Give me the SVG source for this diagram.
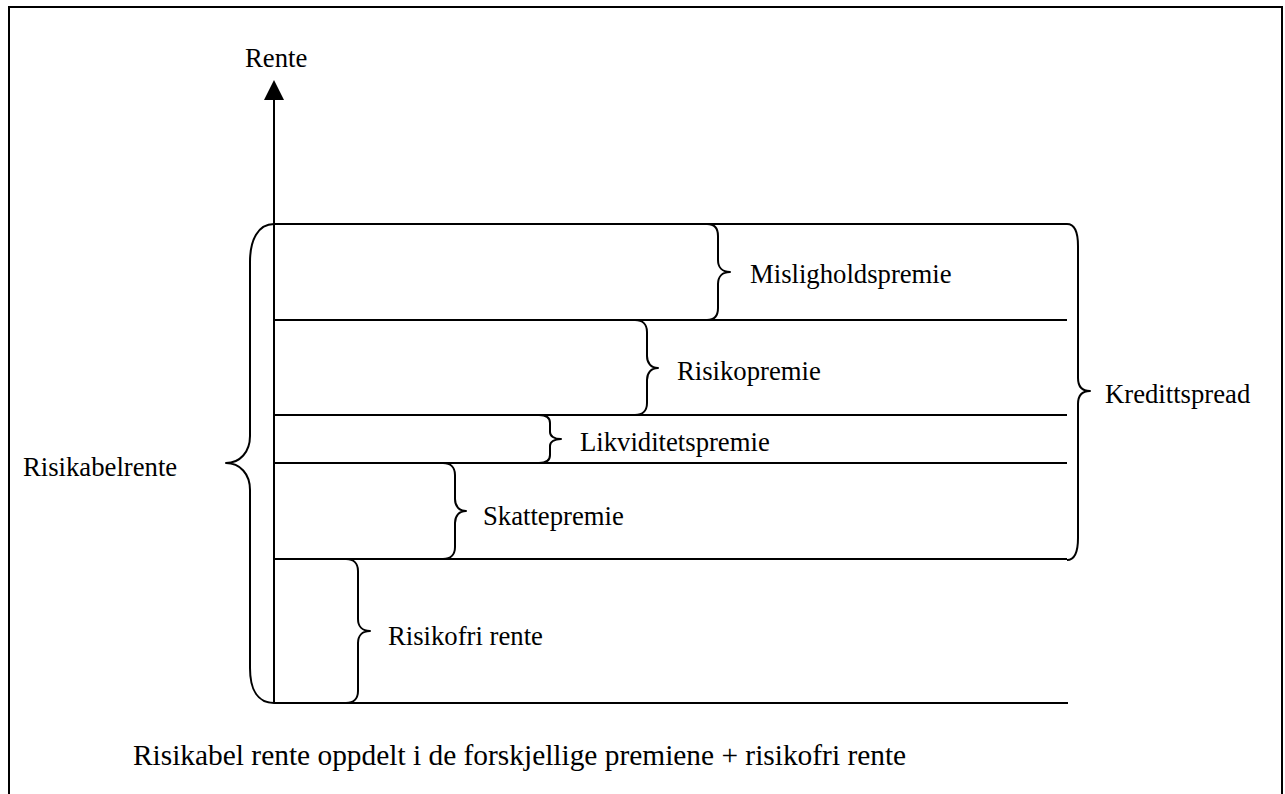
<svg xmlns="http://www.w3.org/2000/svg" width="1285" height="794" viewBox="0 0 1285 794">
<style>
.ln{stroke:#000;stroke-width:2;fill:none}
.br{stroke:#000;stroke-width:2;fill:none;stroke-linejoin:round}
.t{font-family:"Liberation Serif","Times New Roman",serif;font-size:26.7px;fill:#000}
.cap{font-family:"Liberation Serif","Times New Roman",serif;font-size:29.4px;fill:#000}
</style>
<rect width="1285" height="794" fill="#fff"/>
<g id="frame">
<path class="ln" d="M9,810 V7 H1282 V810" stroke-width="2.5"/>
</g>
<g id="axis">
<line class="ln" x1="274" y1="703" x2="274" y2="98"/>
<polygon points="274,80 264,100 284,100" fill="#000"/>
<text class="t" x="245" y="67">Rente</text>
</g>
<g id="connectors">
<line class="ln" x1="274" y1="224" x2="1067" y2="224"/>
<line class="ln" x1="274" y1="320" x2="1067" y2="320"/>
<line class="ln" x1="274" y1="415" x2="1067" y2="415"/>
<line class="ln" x1="274" y1="463" x2="1067" y2="463"/>
<line class="ln" x1="274" y1="559" x2="1067" y2="559"/>
<line class="ln" x1="274" y1="703" x2="1068" y2="703"/>
</g>
<g id="risikabelrente">
<path class="br" d="M274,224 C258,224 250,240 250,262 L250,436 C250,452 240,463 226,463 C240,463 250,474 250,490 L250,668 C250,690 258,703 274,703"/>
<text class="t" x="23" y="476">Risikabelrente</text>
</g>
<g id="misligholdspremie">
<path class="br" d="M707,224 C714,224 718,228 718,236 L718,260 C718,267 722,272 730,272 C722,272 718,277 718,284 L718,308 C718,316 714,320 707,320"/>
<text class="t" x="750" y="283">Misligholdspremie</text>
</g>
<g id="risikopremie">
<path class="br" d="M635,320 C642,320 647,324 647,332 L647,356 C647,363 651,368 658,368 C651,368 647,373 647,380 L647,403 C647,411 642,415 635,415"/>
<text class="t" x="677" y="380">Risikopremie</text>
</g>
<g id="likviditetspremie">
<path class="br" d="M539,415 C546,415 550,418 550,423 L550,432 C550,436 554,439 561,439 C554,439 550,442 550,446 L550,455 C550,460 546,463 539,463"/>
<text class="t" x="580" y="451">Likviditetspremie</text>
</g>
<g id="skattepremie">
<path class="br" d="M443,463 C450,463 455,467 455,475 L455,499 C455,506 459,511 466,511 C459,511 455,516 455,523 L455,547 C455,555 450,559 443,559"/>
<text class="t" x="483" y="525">Skattepremie</text>
</g>
<g id="risikofrirente">
<path class="br" d="M346,559 C353,559 358,563 358,571 L358,619 C358,626 362,631 370,631 C362,631 358,636 358,643 L358,691 C358,699 353,703 346,703"/>
<text class="t" x="388" y="645">Risikofri rente</text>
</g>
<g id="kredittspread">
<path class="br" d="M1067,224 C1074,224 1078,232 1078,246 L1078,378 C1078,386 1082,391 1090,391 C1082,391 1078,396 1078,404 L1078,538 C1078,552 1074,560 1067,560"/>
<text class="t" x="1105" y="403">Kredittspread</text>
</g>
<g id="caption">
<text class="cap" x="133" y="765">Risikabel rente oppdelt i de forskjellige premiene + risikofri rente</text>
</g>
</svg>
